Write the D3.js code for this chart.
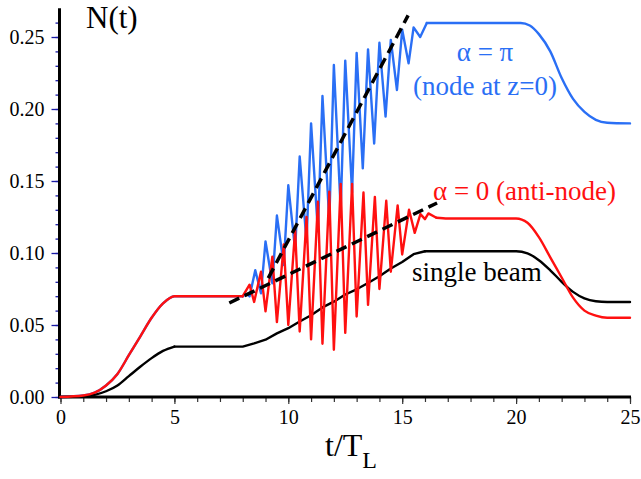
<!DOCTYPE html>
<html><head><meta charset="utf-8">
<script src="https://cdn.jsdelivr.net/npm/d3@7"></script>
<style>
body{margin:0;background:#fff}
svg{display:block}
</style>
</head><body>
<svg id="c" width="641" height="479"></svg>
<script>
// ---- data ----
const xMajorTicks = [0, 5, 10, 15, 20, 25];
const xMinorTicks = [0,1,2,3,4,5,6,7,8,9,10,11,12,13,14,15,16,17,18,19,20,21,22,23,24,25];
const yMajorTicks = [0, 0.05, 0.10, 0.15, 0.20, 0.25];
const yMinorTicks = [0,0.01,0.02,0.03,0.04,0.05,0.06,0.07,0.08,0.09,0.10,0.11,0.12,0.13,0.14,0.15,0.16,0.17,0.18,0.19,0.20,0.21,0.22,0.23,0.24,0.25,0.26];

const singleT = [0,1,1.5,2,2.5,3,3.5,4,4.5,5,8,8.5,9,9.5,10,10.5,11,11.5,12,12.5,13,13.5,14,14.5,15,15.5,16,20,20.5,21,21.5,22,22.5,23,23.5,24,25];
const singleN = [0,0.0005,0.0015,0.004,0.008,0.0145,0.021,0.027,0.032,0.035,0.035,0.0372,0.0398,0.0442,0.0478,0.0524,0.0568,0.0622,0.0662,0.0712,0.0748,0.0792,0.0838,0.0892,0.0938,0.0992,0.1012,0.1012,0.0998,0.095,0.088,0.080,0.073,0.0685,0.0665,0.066,0.066];

const antiT = [0,1,1.5,2,2.5,3,3.5,4,4.5,5,8,8.3,8.5,8.8,9.0,9.3,9.5,9.8,10.0,10.3,10.5,10.8,11.0,11.3,11.5,11.8,12.0,12.3,12.5,12.8,13.0,13.3,13.5,13.8,14.0,14.3,14.5,14.8,15.0,15.3,15.55,15.8,16.0,16.15,16.5,17,20,20.5,21,21.5,22,22.5,23,23.5,24,25];
const antiN = [0,0.001,0.003,0.008,0.016,0.029,0.042,0.055,0.065,0.070,0.070,0.078,0.066,0.087,0.0595,0.0975,0.052,0.106,0.050,0.116,0.0455,0.125,0.040,0.1356,0.037,0.1426,0.0328,0.148,0.0445,0.148,0.0559,0.142,0.064,0.139,0.075,0.1363,0.087,0.133,0.099,0.130,0.114,0.127,0.1235,0.1275,0.1245,0.124,0.124,0.121,0.111,0.097,0.083,0.069,0.060,0.0565,0.055,0.055];

const nodeT = [0,1,1.5,2,2.5,3,3.5,4,4.5,5,8,8.2,8.3,8.55,8.8,9.0,9.3,9.5,9.8,10.0,10.3,10.5,10.8,11.0,11.3,11.5,11.8,12.0,12.3,12.5,12.8,13.0,13.27,13.5,13.77,14.0,14.27,14.5,14.77,15.0,15.28,15.5,15.79,16.08,20.2,20.6,21,21.5,22,22.5,23,23.5,24,25];
const nodeN = [0,0.001,0.003,0.008,0.016,0.029,0.042,0.055,0.065,0.070,0.070,0.0715,0.0698,0.088,0.072,0.108,0.079,0.126,0.0917,0.147,0.102,0.167,0.108,0.190,0.115,0.209,0.122,0.2306,0.130,0.2336,0.142,0.239,0.1588,0.2414,0.176,0.246,0.1947,0.248,0.2132,0.255,0.2317,0.2567,0.250,0.2597,0.2597,0.258,0.252,0.240,0.2215,0.207,0.198,0.1925,0.1905,0.190];

const steepT = [9.12, 15.26];
const steepN = [0.0826, 0.265];
const shallowT = [7.41, 16.53];
const shallowN = [0.0653, 0.1347];

// ---- layout ----
const FONT = "'Liberation Serif'";
const svg = d3.select("#c");
const x = d3.scaleLinear().domain([0, 25]).range([60.5, 630]);
const y = d3.scaleLinear().domain([0, 0.27]).range([397, 8.2]);

const zip = (ts, ns) => ts.map((t, i) => [t, ns[i]]);
const smooth = d3.line().x(d => x(d[0])).y(d => y(d[1])).curve(d3.curveMonotoneX);
const straight = d3.line().x(d => x(d[0])).y(d => y(d[1]));

// axes ticks
const tickColor = "#1a1aa6";
const gyMinor = svg.append("g").attr("transform", "translate(59.5,0)")
  .call(d3.axisLeft(y).tickValues(yMinorTicks).tickSize(4).tickFormat(""));
gyMinor.select(".domain").remove();
gyMinor.selectAll("line").attr("stroke", tickColor).attr("stroke-width", 1.3);
const gy = svg.append("g").attr("transform", "translate(59.5,0)")
  .call(d3.axisLeft(y).tickValues(yMajorTicks).tickSize(8).tickPadding(7).tickFormat(d3.format(".2f")));
gy.select(".domain").remove();
gy.attr("font-family", null);
gy.selectAll("line").attr("stroke", tickColor).attr("stroke-width", 1.3);
gy.selectAll("text").attr("font-size", 20).attr("fill", "#000").style("font-family", FONT);

const gxMinor = svg.append("g").attr("transform", "translate(0,397)")
  .call(d3.axisBottom(x).tickValues(xMinorTicks).tickSize(5).tickFormat(""));
gxMinor.select(".domain").remove();
gxMinor.selectAll("line").attr("stroke", "#333").attr("stroke-width", 1.2);
const gx = svg.append("g").attr("transform", "translate(0,397)")
  .call(d3.axisBottom(x).tickValues(xMajorTicks).tickSize(7).tickPadding(6).tickFormat(d3.format("d")));
gx.select(".domain").remove();
gx.attr("font-family", null);
gx.selectAll("line").attr("stroke", "#333").attr("stroke-width", 1.2);
gx.selectAll("text").attr("font-size", 20).attr("fill", "#000").style("font-family", FONT);

// axis lines
svg.append("line").attr("x1", 59.5).attr("x2", 59.5).attr("y1", y(0.27)).attr("y2", 398.5)
  .attr("stroke", "#000").attr("stroke-width", 3);
svg.append("line").attr("x1", 58).attr("x2", x(25) + 1).attr("y1", 397).attr("y2", 397)
  .attr("stroke", "#000").attr("stroke-width", 3);

// curves: smooth ramps with monotone interpolation, oscillating part with straight segments
function drawSeries(ts, ns, color, t0, t1) {
  const pts = zip(ts, ns);
  const a = pts.filter(d => d[0] <= t0);
  const b = pts.filter(d => d[0] >= t0 && d[0] <= t1);
  const c = pts.filter(d => d[0] >= t1);
  const g = svg.append("g").attr("fill", "none").attr("stroke", color)
    .attr("stroke-width", 2.4).attr("stroke-linejoin", "round").attr("stroke-linecap", "round");
  g.append("path").attr("d", smooth(a));
  g.append("path").attr("d", straight(b));
  g.append("path").attr("d", smooth(c));
}
drawSeries(nodeT, nodeN, "#2a6ff5", 8, 16.08);
drawSeries(singleT, singleN, "#000000", 5, 16);
drawSeries(antiT, antiN, "#ff1010", 8, 16.5);

// dashed guide lines
[[steepT, steepN], [shallowT, shallowN]].forEach(([ts, ns]) => {
  svg.append("path").datum(zip(ts, ns)).attr("d", straight)
    .attr("fill", "none").attr("stroke", "#000").attr("stroke-width", 3.5)
    .attr("stroke-dasharray", "11,6");
});

// labels
function label(xp, yp, size, color, txt, anchor) {
  return svg.append("text").attr("x", xp).attr("y", yp).attr("font-size", size)
    .attr("fill", color).attr("text-anchor", anchor || "start")
    .style("font-family", FONT).text(txt);
}
label(86, 28, 31, "#000", "N(t)");
const xt = svg.append("text").attr("x", 325).attr("y", 456).attr("font-size", 32).style("font-family", FONT);
xt.append("tspan").text("t/T");
xt.append("tspan").attr("dy", 12).attr("font-size", 24).text("L");

label(485, 61, 27, "#2a6ff5", "α = π", "middle");
label(485, 95, 27, "#2a6ff5", "(node at z=0)", "middle");
label(433, 200, 27, "#ff1010", "α = 0 (anti-node)");
label(412, 281, 27, "#000", "single beam");
</script>
</body></html>
